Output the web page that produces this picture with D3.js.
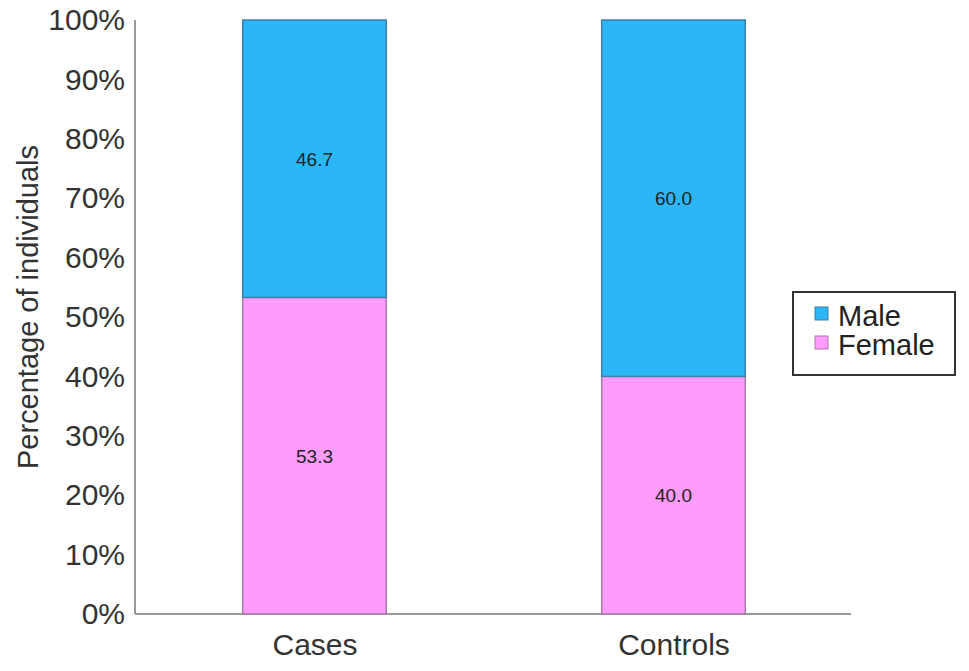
<!DOCTYPE html>
<html>
<head>
<meta charset="utf-8">
<script src="https://cdn.jsdelivr.net/npm/d3@7"></script>
<style>
  body { margin: 0; background: #fff; }
  text { font-family: "Liberation Sans", Arial, Helvetica, sans-serif; }
</style>
</head>
<body>
<div id="chart"></div>
<script>
// data
const groups = ["Cases", "Controls"];
const seriesKeys = ["Female", "Male"];
const femalePct = [53.3, 40.0];
const malePct = [46.7, 60.0];
const yTicks = [0, 10, 20, 30, 40, 50, 60, 70, 80, 90, 100];
const legendItems = ["Male", "Female"];

const colors = {Male: "#2bb7f7", Female: "#ff9cfd"};
const strokes = {Male: "#3f7fa6", Female: "#a57aa9"};

const W = 969, H = 671;
const margin = {top: 20, right: 116, bottom: 57, left: 135};
const width = W - margin.left - margin.right;
const height = H - margin.top - margin.bottom;

const svg = d3.select("#chart").append("svg")
    .attr("width", W)
    .attr("height", H);

const g = svg.append("g")
    .attr("transform", "translate(" + margin.left + "," + margin.top + ")");

// build rows for the stack
const rows = groups.map((grp, i) => ({group: grp, Female: femalePct[i], Male: malePct[i]}));
const stack = d3.stack().keys(seriesKeys)(rows);

const x = d3.scalePoint().domain(groups).range([0, width]).padding(0.5);
const barW = x.step() * 0.4;
const y = d3.scaleLinear().domain([0, 100]).range([height, 0]);

// y axis labels (no tick marks)
const yAxis = g.append("g")
    .call(d3.axisLeft(y).tickValues(yTicks).tickSize(0).tickPadding(10).tickFormat(d => d + "%"));
yAxis.select(".domain").remove();
yAxis.selectAll("text")
    .attr("font-size", 30)
    .attr("fill", "#333")
    .attr("font-family", "Liberation Sans, Arial, sans-serif");

// x axis labels
const xAxis = g.append("g")
    .attr("transform", `translate(0,${height})`)
    .call(d3.axisBottom(x).tickSize(0).tickPadding(20));
xAxis.select(".domain").remove();
xAxis.selectAll("text")
    .attr("font-size", 30)
    .attr("fill", "#333")
    .attr("font-family", "Liberation Sans, Arial, sans-serif");

// axis lines
g.append("line")
    .attr("x1", 0).attr("x2", 0)
    .attr("y1", 0).attr("y2", height)
    .attr("stroke", "#999").attr("stroke-width", 2);
g.append("line")
    .attr("x1", 0).attr("x2", width - 2)
    .attr("y1", height).attr("y2", height)
    .attr("stroke", "#999").attr("stroke-width", 2);

// bars
const layers = g.selectAll(".layer")
    .data(stack, d => d.key)
    .enter().append("g")
    .attr("class", "layer");

layers.selectAll("rect")
    .data(d => d.map(v => ({key: d.key, v: v})))
    .enter().append("rect")
    .attr("x", d => x(d.v.data.group) - barW / 2)
    .attr("width", barW)
    .attr("y", d => y(d.v[1]))
    .attr("height", d => y(d.v[0]) - y(d.v[1]))
    .attr("fill", d => colors[d.key])
    .attr("stroke", d => strokes[d.key])
    .attr("stroke-width", 1.5);

layers.selectAll(".val")
    .data(d => d.map(v => ({key: d.key, v: v})))
    .enter().append("text")
    .attr("class", "val")
    .attr("x", d => x(d.v.data.group))
    .attr("y", d => (y(d.v[0]) + y(d.v[1])) / 2)
    .attr("dy", "0.36em")
    .attr("text-anchor", "middle")
    .attr("font-size", 19)
    .attr("fill", "#222")
    .text(d => d3.format(".1f")(d.v[1] - d.v[0]));

// y label
svg.append("text")
    .attr("transform", "translate(38,307) rotate(-90)")
    .attr("text-anchor", "middle")
    .attr("font-size", 29)
    .attr("fill", "#333")
    .text("Percentage of individuals");

// legend
const legend = svg.append("g").attr("transform", "translate(793,292)");
legend.append("rect")
    .attr("width", 162).attr("height", 83)
    .attr("fill", "#fff")
    .attr("stroke", "#333").attr("stroke-width", 2);

const li = legend.selectAll(".li")
    .data(legendItems)
    .enter().append("g")
    .attr("transform", (d, i) => `translate(22,${15 + i * 29})`);
li.append("rect")
    .attr("width", 13).attr("height", 13)
    .attr("fill", d => colors[d])
    .attr("stroke", d => strokes[d]).attr("stroke-width", 1);
li.append("text")
    .attr("x", 23).attr("y", 19)
    .attr("font-size", 29)
    .attr("fill", "#222")
    .text(d => d);
</script>
</body>
</html>
